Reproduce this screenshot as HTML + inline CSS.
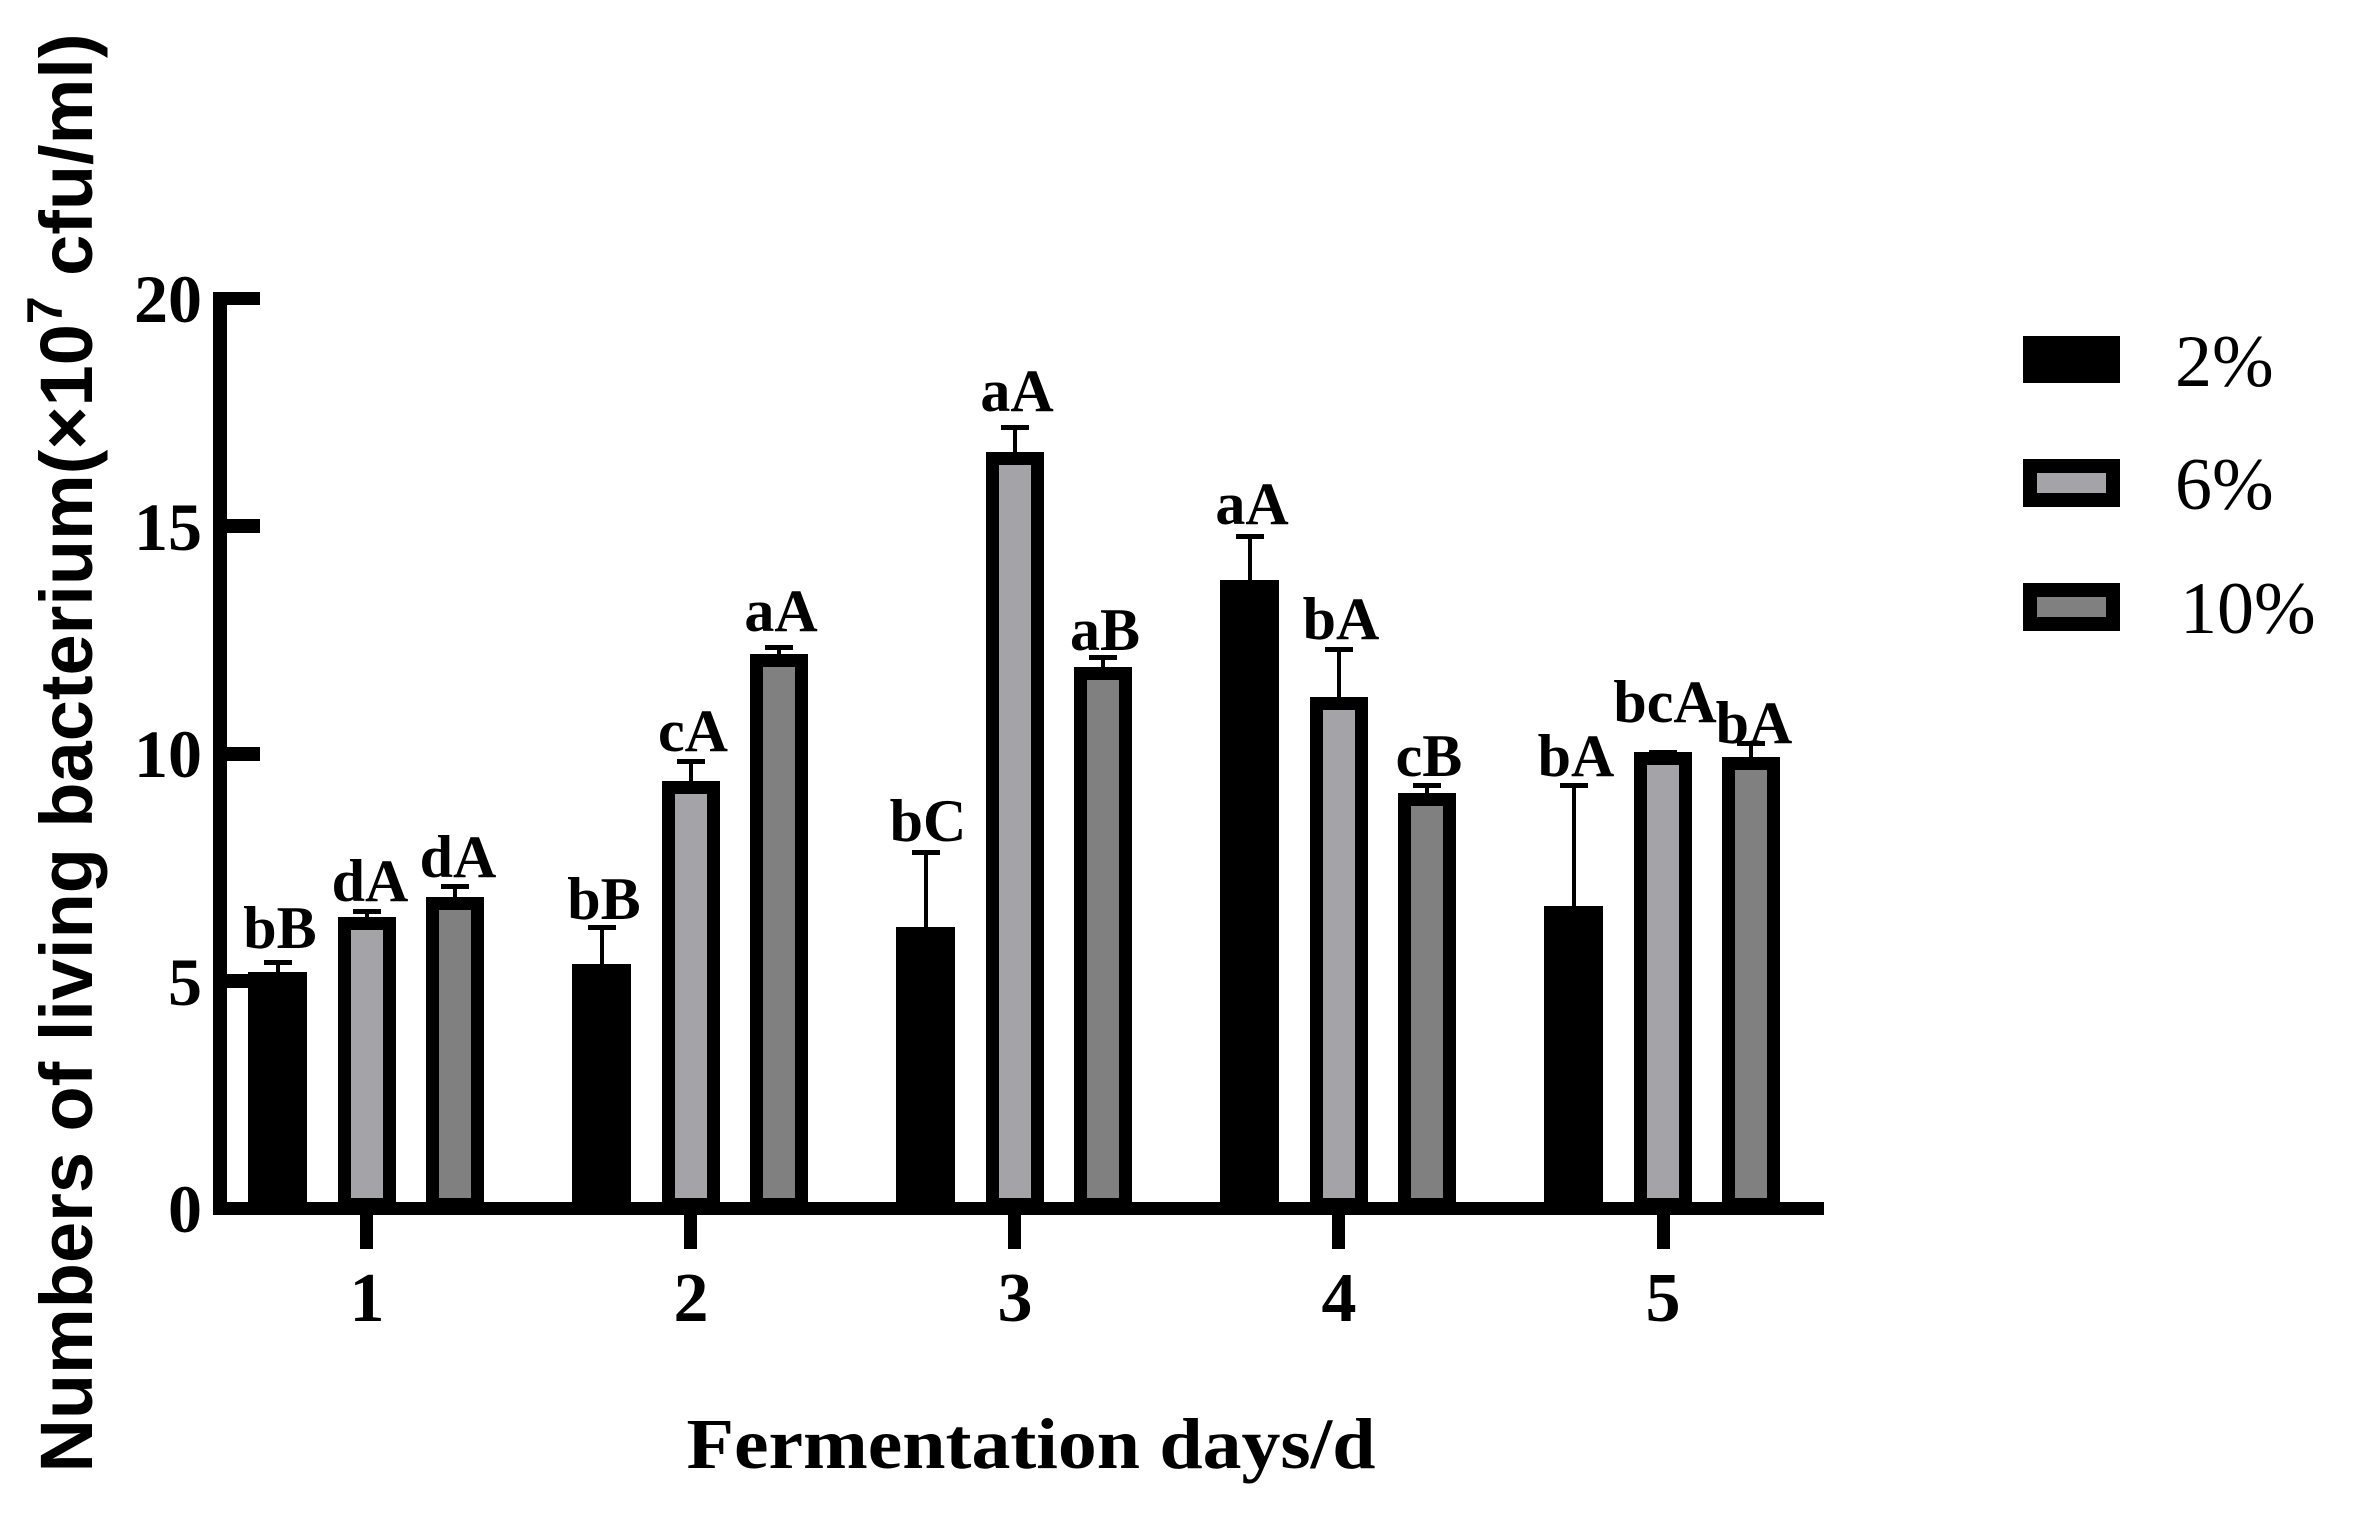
<!DOCTYPE html>
<html><head><meta charset="utf-8"><style>html,body{margin:0;padding:0;background:#fff}svg{display:block}</style></head>
<body>
<svg width="2375" height="1515" viewBox="0 0 2375 1515" xmlns="http://www.w3.org/2000/svg">
<rect width="2375" height="1515" fill="#fff"/>
<text transform="translate(92,753) rotate(-90)" text-anchor="middle" font-family="Liberation Sans, Arial, sans-serif" font-weight="bold" font-size="74" textLength="1439" lengthAdjust="spacingAndGlyphs">Numbers of living bacterium(×10<tspan font-size="50" dy="-30">7</tspan><tspan dy="30"> cfu/ml)</tspan></text>
<rect x="213" y="292" width="14" height="923" fill="#000"/>
<rect x="213" y="1202" width="1611" height="13" fill="#000"/>
<g fill="#000">
<rect x="213" y="292" width="47" height="13"/>
<rect x="213" y="519" width="47" height="14"/>
<rect x="213" y="747" width="47" height="14"/>
<rect x="213" y="974" width="47" height="14"/>
</g>
<g font-family="Liberation Serif, Times New Roman, serif" font-weight="bold" font-size="68" text-anchor="end">
<text x="202" y="322">20</text>
<text x="202" y="550">15</text>
<text x="202" y="777">10</text>
<text x="202" y="1005">5</text>
<text x="202" y="1232">0</text>
</g>
<g fill="#000">
<rect x="360" y="1208" width="13" height="41"/>
<rect x="684" y="1208" width="13" height="41"/>
<rect x="1008" y="1208" width="13" height="41"/>
<rect x="1332" y="1208" width="13" height="41"/>
<rect x="1657" y="1208" width="13" height="41"/>
</g>
<g font-family="Liberation Serif, Times New Roman, serif" font-weight="bold" font-size="70" text-anchor="middle">
<text x="367" y="1321">1</text>
<text x="691" y="1321">2</text>
<text x="1015" y="1321">3</text>
<text x="1339" y="1321">4</text>
<text x="1663" y="1321">5</text>
</g>
<text x="1031" y="1468" text-anchor="middle" font-family="Liberation Serif, Times New Roman, serif" font-weight="bold" font-size="72" textLength="689" lengthAdjust="spacingAndGlyphs">Fermentation days/d</text>
<g id="bars">
<rect x="248" y="972" width="59" height="233" fill="#000"/>
<line x1="278" y1="972" x2="278" y2="962" stroke="#000" stroke-width="4"/><rect x="264" y="960" width="28" height="5"/>
<rect x="344.5" y="923.5" width="45" height="281" fill="#a4a4a8" stroke="#000" stroke-width="13"/>
<line x1="367" y1="917" x2="367" y2="911" stroke="#000" stroke-width="4"/><rect x="353" y="909" width="28" height="5"/>
<rect x="432.5" y="903.5" width="45" height="301" fill="#808080" stroke="#000" stroke-width="13"/>
<line x1="455" y1="897" x2="455" y2="886" stroke="#000" stroke-width="4"/><rect x="441" y="884" width="28" height="5"/>
<rect x="572" y="964" width="59" height="241"/>
<line x1="602" y1="964" x2="602" y2="927" stroke="#000" stroke-width="4"/><rect x="588" y="925" width="28" height="5"/>
<rect x="668.5" y="787.5" width="45" height="417" fill="#a4a4a8" stroke="#000" stroke-width="13"/>
<line x1="691" y1="781" x2="691" y2="761" stroke="#000" stroke-width="4"/><rect x="677" y="759" width="28" height="5"/>
<rect x="756.5" y="660.5" width="45" height="544" fill="#808080" stroke="#000" stroke-width="13"/>
<line x1="779" y1="654" x2="779" y2="647" stroke="#000" stroke-width="4"/><rect x="765" y="645" width="28" height="5"/>
<rect x="896" y="927" width="59" height="278"/>
<line x1="926" y1="927" x2="926" y2="852" stroke="#000" stroke-width="4"/><rect x="912" y="850" width="28" height="5"/>
<rect x="992.5" y="458.5" width="45" height="746" fill="#a4a4a8" stroke="#000" stroke-width="13"/>
<line x1="1015" y1="452" x2="1015" y2="427" stroke="#000" stroke-width="4"/><rect x="1001" y="425" width="28" height="5"/>
<rect x="1080.5" y="673.5" width="45" height="531" fill="#808080" stroke="#000" stroke-width="13"/>
<line x1="1103" y1="667" x2="1103" y2="657" stroke="#000" stroke-width="4"/><rect x="1089" y="655" width="28" height="5"/>
<rect x="1220" y="580" width="59" height="625"/>
<line x1="1250" y1="580" x2="1250" y2="536" stroke="#000" stroke-width="4"/><rect x="1236" y="534" width="28" height="5"/>
<rect x="1316.5" y="703.5" width="45" height="501" fill="#a4a4a8" stroke="#000" stroke-width="13"/>
<line x1="1339" y1="697" x2="1339" y2="649" stroke="#000" stroke-width="4"/><rect x="1325" y="647" width="28" height="5"/>
<rect x="1404.5" y="799.5" width="45" height="405" fill="#808080" stroke="#000" stroke-width="13"/>
<line x1="1427" y1="793" x2="1427" y2="785" stroke="#000" stroke-width="4"/><rect x="1413" y="783" width="28" height="5"/>
<rect x="1544" y="906" width="59" height="299"/>
<line x1="1574" y1="906" x2="1574" y2="785" stroke="#000" stroke-width="4"/><rect x="1560" y="783" width="28" height="5"/>
<rect x="1640.5" y="758.5" width="45" height="446" fill="#a4a4a8" stroke="#000" stroke-width="13"/>
<rect x="1649" y="750" width="28" height="5"/>
<rect x="1728.5" y="763.5" width="45" height="441" fill="#808080" stroke="#000" stroke-width="13"/>
<line x1="1751" y1="757" x2="1751" y2="743" stroke="#000" stroke-width="4"/><rect x="1737" y="741" width="28" height="5"/>
</g>
<g font-family="Liberation Serif, Times New Roman, serif" font-weight="bold" font-size="60" text-anchor="middle">
<text x="280" y="948">bB</text>
<text x="370" y="901">dA</text>
<text x="458" y="877">dA</text>
<text x="604" y="919">bB</text>
<text x="693" y="751">cA</text>
<text x="781" y="631">aA</text>
<text x="928" y="841">bC</text>
<text x="1017" y="411">aA</text>
<text x="1105" y="650">aB</text>
<text x="1252" y="524">aA</text>
<text x="1341" y="639">bA</text>
<text x="1429" y="776">cB</text>
<text x="1576" y="776">bA</text>
<text x="1665" y="722">bcA</text>
<text x="1754" y="743">bA</text>
</g>
<rect x="2023" y="336" width="97" height="47" fill="#000"/>
<rect x="2030" y="466" width="83" height="34" fill="#a4a4a8" stroke="#000" stroke-width="14"/>
<rect x="2030" y="590" width="83" height="34" fill="#808080" stroke="#000" stroke-width="14"/>
<g font-family="Liberation Serif, Times New Roman, serif" font-size="74">
<text x="2175" y="386">2%</text>
<text x="2175" y="509">6%</text>
<text x="2180" y="633">10%</text>
</g>
</svg>
</body></html>
